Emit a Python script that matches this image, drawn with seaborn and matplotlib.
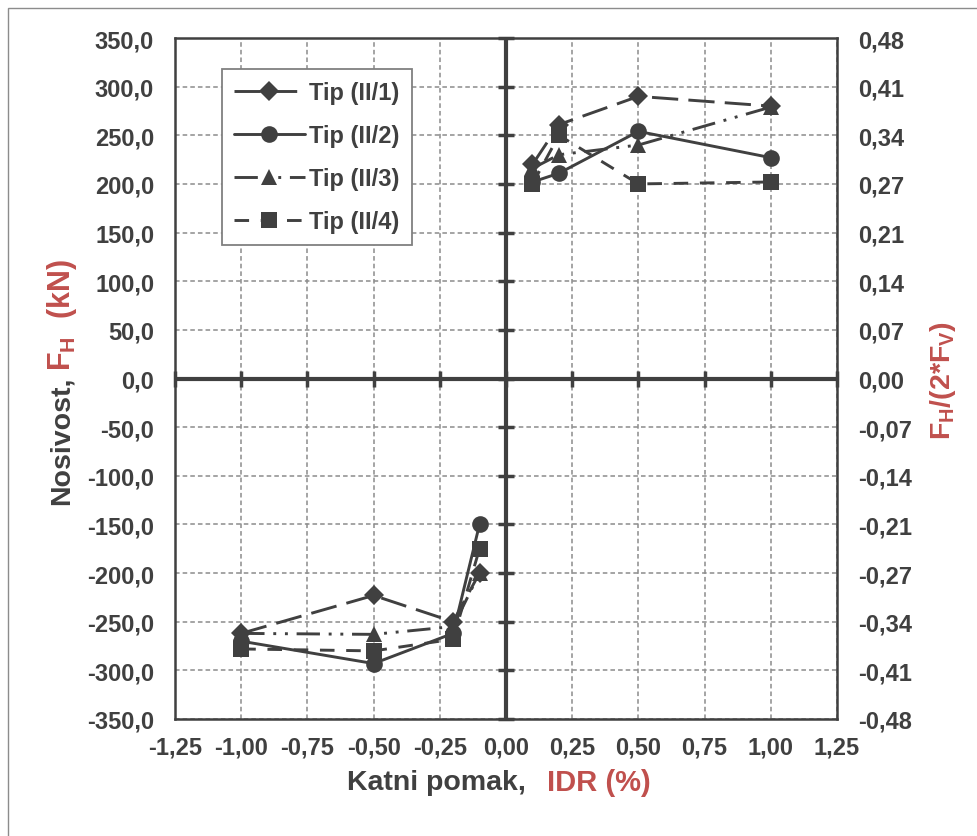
import matplotlib.pyplot as plt
import numpy as np
import pandas as pd
import seaborn as sns
from matplotlib.lines import Line2D
from matplotlib.patches import Rectangle
from matplotlib.ticker import FuncFormatter

# Katni pomak IDR (%) - negativna i pozitivna grana
idr_neg = [-1.0, -0.5, -0.2, -0.1]
idr_pos = [0.1, 0.2, 0.5, 1.0]

tipovi = ["Tip (II/1)", "Tip (II/2)", "Tip (II/3)", "Tip (II/4)"]

# Nosivost F_H (kN), očitano sa grafa
tip1_neg = [-262, -223, -250, -200]
tip1_pos = [220, 261, 290, 280]
tip2_neg = [-270, -293, -262, -150]
tip2_pos = [202, 211, 254, 227]
tip3_neg = [-262, -263, -255, -200]
tip3_pos = [216, 230, 240, 279]
tip4_neg = [-278, -280, -268, -175]
tip4_pos = [200, 250, 200, 202]

x_ticks = np.arange(-1.25, 1.26, 0.25)
y_ticks = np.arange(-350, 351, 50)
y2_ticks = np.linspace(-0.48, 0.48, 15)

tamna = "#404040"
crvena = "#c0504d"

redovi = []
for tip, neg, pos in zip(tipovi, [tip1_neg, tip2_neg, tip3_neg, tip4_neg],
                         [tip1_pos, tip2_pos, tip3_pos, tip4_pos]):
    for x, y in zip(idr_neg, neg):
        redovi.append((tip, "neg", x, y))
    for x, y in zip(idr_pos, pos):
        redovi.append((tip, "pos", x, y))
df = pd.DataFrame(redovi, columns=["tip", "grana", "idr", "fh"])

sns.set_theme(style="white")
plt.rcParams["font.family"] = ["Liberation Sans", "DejaVu Sans"]
plt.rcParams["font.weight"] = "bold"
plt.rcParams["mathtext.fontset"] = "custom"
plt.rcParams["mathtext.bf"] = "Liberation Sans:bold"
plt.rcParams["mathtext.rm"] = "Liberation Sans:bold"
plt.rcParams["mathtext.it"] = "Liberation Sans:bold"

markeri = dict(zip(tipovi, ["D", "o", "^", "s"]))
velicine = dict(zip(tipovi, [10, 12, 12, 11.5]))
crtice = dict(zip(tipovi, [(9, 3.5), "", (8, 3, 1, 3, 1, 3), (5, 4)]))

fig = plt.figure(figsize=(9.78, 8.37), dpi=100)
ax = fig.add_axes([175 / 978, 1 - 720 / 837, (837 - 175) / 978, (720 - 39) / 837])

sns.lineplot(data=df, x="idr", y="fh", hue="tip", style="tip", units="grana",
             estimator=None, sort=False, palette=[tamna] * 4, markers=markeri,
             dashes=crtice, linewidth=2.1, markeredgewidth=0, ax=ax, zorder=5)
ax.get_legend().remove()
# veličine markera po tipu (seaborn daje istu veličinu svima)
for ln in ax.lines:
    ln.set_markersize(velicine[tipovi[["D", "o", "^", "s"].index(ln.get_marker())]])

ax.set_xlim(-1.25, 1.25)
ax.set_ylim(-350, 350)
ax.set_xticks(x_ticks)
ax.set_yticks(y_ticks)
ax.xaxis.set_major_formatter(FuncFormatter(lambda v, p: f"{v:.2f}".replace(".", ",")))
ax.yaxis.set_major_formatter(FuncFormatter(lambda v, p: f"{v:.1f}".replace(".", ",")))
ax.tick_params(axis="both", length=0, labelsize=17, labelcolor=tamna)
ax.tick_params(axis="y", pad=15)
ax.tick_params(axis="x", pad=12)
ax.set_xlabel("")
ax.set_ylabel("")
ax.grid(True, color="#8c8c8c", linestyle=(0, (3, 2)), linewidth=1.1)
ax.set_axisbelow(True)
for s in ax.spines.values():
    s.set_color(tamna)
    s.set_linewidth(1.8)

# glavne osi kroz nulu s oznakama
ax.axhline(0, color=tamna, linewidth=3, zorder=3)
ax.axvline(0, color=tamna, linewidth=3, zorder=3)
ax.plot(np.zeros(len(y_ticks)), y_ticks, linestyle="none", marker="_", markersize=11,
        markeredgewidth=2.5, color=tamna, zorder=3, clip_on=False)
ax.plot(x_ticks, np.zeros(len(x_ticks)), linestyle="none", marker="|", markersize=11,
        markeredgewidth=2.5, color=tamna, zorder=3, clip_on=False)

ax2 = ax.twinx()
ax2.set_ylim(-0.48, 0.48)
ax2.set_yticks(y2_ticks)
ax2.yaxis.set_major_formatter(FuncFormatter(lambda v, p: f"{v:.2f}".replace(".", ",").replace("-0,00", "0,00")))
ax2.tick_params(axis="y", length=0, labelsize=17, labelcolor=tamna, pad=15)
for s in ax2.spines.values():
    s.set_visible(False)

# legenda
ruke = [Line2D([], [], color=tamna, linewidth=2.1, marker=markeri[t],
               markersize=velicine[t], markeredgewidth=0,
               linestyle="-" if crtice[t] == "" else (0, crtice[t]))
        for t in tipovi]
leg = ax2.legend(ruke, tipovi, loc="upper left", bbox_to_anchor=(222 / 978, 1 - 70 / 837),
                 bbox_transform=fig.transFigure, fontsize=17, handlelength=3.0,
                 labelspacing=0.85, borderpad=0.5, handletextpad=0.2, borderaxespad=0,
                 fancybox=False, framealpha=1, edgecolor="#808080")
leg.get_frame().set_linewidth(1.3)
for t in leg.get_texts():
    t.set_color(tamna)

# natpisi osi
t1 = fig.text(347 / 978, 1 - 783 / 837, "Katni pomak,", fontsize=20.5, color=tamna,
              ha="left", va="center")
ax.annotate("IDR (%)", xy=(1, 0.5), xycoords=t1, xytext=(15, 0), textcoords="offset points",
            fontsize=21, color=crvena, ha="left", va="center", annotation_clip=False)

t2 = fig.text(62 / 978, 1 - 505 / 837, "Nosivost,", fontsize=20.5, color=tamna,
              rotation=90, ha="center", va="bottom")
ax.annotate(r"$\mathbf{F_H}$  (kN)", xy=(0.5, 1), xycoords=t2, xytext=(0, 4),
            textcoords="offset points", fontsize=22, color=crvena, rotation=90,
            ha="center", va="bottom", annotation_clip=False)

fig.text(943 / 978, 1 - 380 / 837, r"$\mathbf{F_H}$/(2*$\mathbf{F_V}$)", fontsize=20.5,
         color=crvena, rotation=90, ha="center", va="center")

# okvir slike
fig.add_artist(Rectangle((8 / 978, -0.1), 1.2, 1.1 - 9 / 837, transform=fig.transFigure,
                         fill=False, edgecolor="#8c8c8c", linewidth=1))

fig.savefig("out.png", dpi=100)
